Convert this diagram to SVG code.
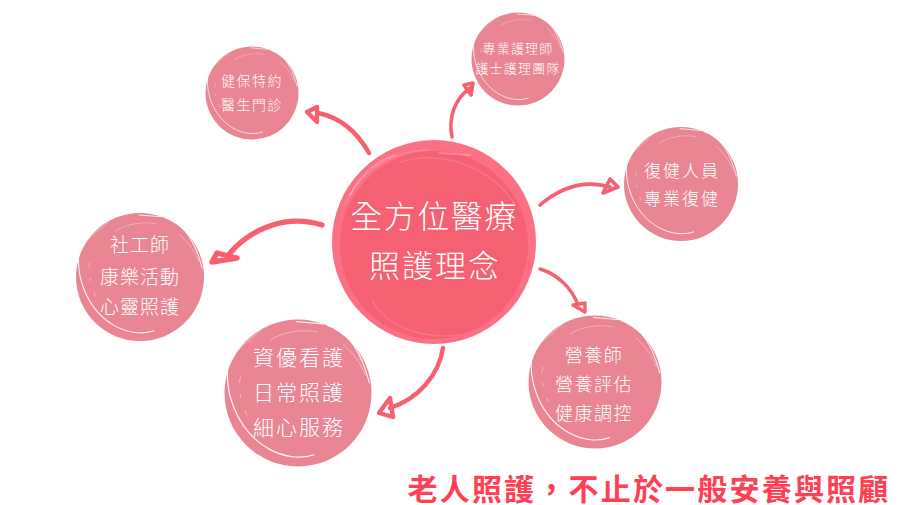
<svg xmlns="http://www.w3.org/2000/svg" xmlns:xlink="http://www.w3.org/1999/xlink" width="898" height="505" viewBox="0 0 898 505">
<style>
text{font-family:"Noto Sans CJK TC","Noto Sans CJK SC",sans-serif;font-weight:300;fill:#fff;text-anchor:middle;dominant-baseline:central}
.cap{font-weight:700;fill:#ff3f53;font-size:30px;letter-spacing:2.2px}
.arrow{fill:none;stroke:#f6606f;stroke-linecap:round;stroke-linejoin:round}
.blob{fill:#ea8593}
.br{fill:none;stroke:#fff;stroke-linecap:round}
</style>
<defs>
<g id="brush">
<circle class="blob" r="100"/>
<path class="br" stroke-width="1.6" stroke-opacity=".95" d="M-94 -45C-102 -5 -85 50 -40 76C-18 88 5 90 22 84"/>
<path class="br" stroke-width="1.6" d="M-42 -92C-56 -86 -68 -80 -76 -70"/>
<path class="br" stroke-width="1" stroke-opacity=".55" d="M-38 -72C-20 -84 8 -87 26 -83"/>
<path class="br" stroke-width="1.6" stroke-opacity=".85" d="M-2 -97L34 -94M40 -92C70 -85 88 -50 97 -14"/>
<path class="br" stroke-width="1.2" stroke-opacity=".5" d="M62 -66C78 -52 86 -38 92 -24M-78 -22L-80 -14M-78 2L-78 6M-72 24L-70 30"/>
<path class="br" stroke-width="2" stroke-opacity=".25" d="M-82 62L-66 78M-50 -86L-80 -60"/>
</g>
</defs>
<rect width="898" height="505" fill="#fff"/>
<g id="connectors">
<path class="arrow" stroke-width="4.4" d="M369 153C356 130 338 117 318 113M307 112L317 107L317 122Z"/>
<path class="arrow" stroke-width="3.6" d="M452 137C448 117 455 99 470 88M473 83L464 85L471 95Z"/>
<path class="arrow" stroke-width="3.6" d="M540 205C560 188 583 179 610 187M618 187L610 179L603 193Z"/>
<path class="arrow" stroke-width="3.4" d="M540 269C557 274 572 288 578 305M585 312L573 305L585 303Z"/>
<path class="arrow" stroke-width="4.4" d="M443 348C439 375 418 399 390 408M379 413L390 398L393 417Z"/>
<path class="arrow" stroke-width="5.4" d="M322 225C287 214 252 228 230 253M212 262L217 253L237 258Z"/>
</g>
<g id="node-center">
<circle cx="434" cy="242" r="102" fill="#fc7086"/>
<circle cx="434" cy="245" r="94" fill="#f56072"/>
<g fill="none" stroke="#fff" stroke-linecap="round">
<path stroke-opacity=".14" stroke-width="1.5" d="M345 205C360 170 395 150 430 150M400 162C440 150 490 165 515 205M372 300C385 325 420 340 460 335"/>
<path stroke-opacity=".22" stroke-width="2" d="M350 195C362 172 380 160 395 155M440 153L470 155"/>
</g>
<text x="434" y="213.500" font-size="32" letter-spacing="1.5">全方位醫療</text>
<text x="435" y="263.500" font-size="31" letter-spacing="2">照護理念</text>
</g>
<g id="node-top-left">
<use xlink:href="#brush" href="#brush" transform="translate(252 93) scale(.465)"/>
<text x="252" y="80" font-size="14" letter-spacing="1.5">健保特約</text>
<text x="252" y="104" font-size="14" letter-spacing="1.5">醫生門診</text>
</g>
<g id="node-top-right">
<use xlink:href="#brush" href="#brush" transform="translate(518 59) scale(.465)"/>
<text x="518" y="47" font-size="13" letter-spacing="1.2">專業護理師</text>
<text x="518" y="67" font-size="13" letter-spacing="1.2">護士護理團隊</text>
</g>
<g id="node-right">
<use xlink:href="#brush" href="#brush" transform="translate(681 184) scale(.57)"/>
<text x="682" y="169" font-size="17" letter-spacing="2">復健人員</text>
<text x="682" y="197" font-size="17" letter-spacing="2">專業復健</text>
</g>
<g id="node-left">
<use xlink:href="#brush" href="#brush" transform="translate(140 277) scale(.64)"/>
<text x="140" y="243.500" font-size="19" letter-spacing="1">社工師</text>
<text x="140" y="275.500" font-size="19" letter-spacing="1">康樂活動</text>
<text x="140" y="305.500" font-size="19" letter-spacing="1">心靈照護</text>
</g>
<g id="node-bottom-left">
<use xlink:href="#brush" href="#brush" transform="translate(298 393) scale(.735)"/>
<text x="299" y="355.500" font-size="21" letter-spacing="2">資優看護</text>
<text x="299" y="390.500" font-size="21" letter-spacing="2">日常照護</text>
<text x="299" y="425.500" font-size="21" letter-spacing="2">細心服務</text>
</g>
<g id="node-bottom-right">
<use xlink:href="#brush" href="#brush" transform="translate(595 382) scale(.665)"/>
<text x="594" y="353.500" font-size="18" letter-spacing="1.5">營養師</text>
<text x="594" y="382.500" font-size="18" letter-spacing="1.5">營養評估</text>
<text x="594" y="411.500" font-size="18" letter-spacing="1.5">健康調控</text>
</g>
<text class="cap" x="649" y="486.500">老人照護&#xFF0C;不止於一般安養與照顧</text>
</svg>
